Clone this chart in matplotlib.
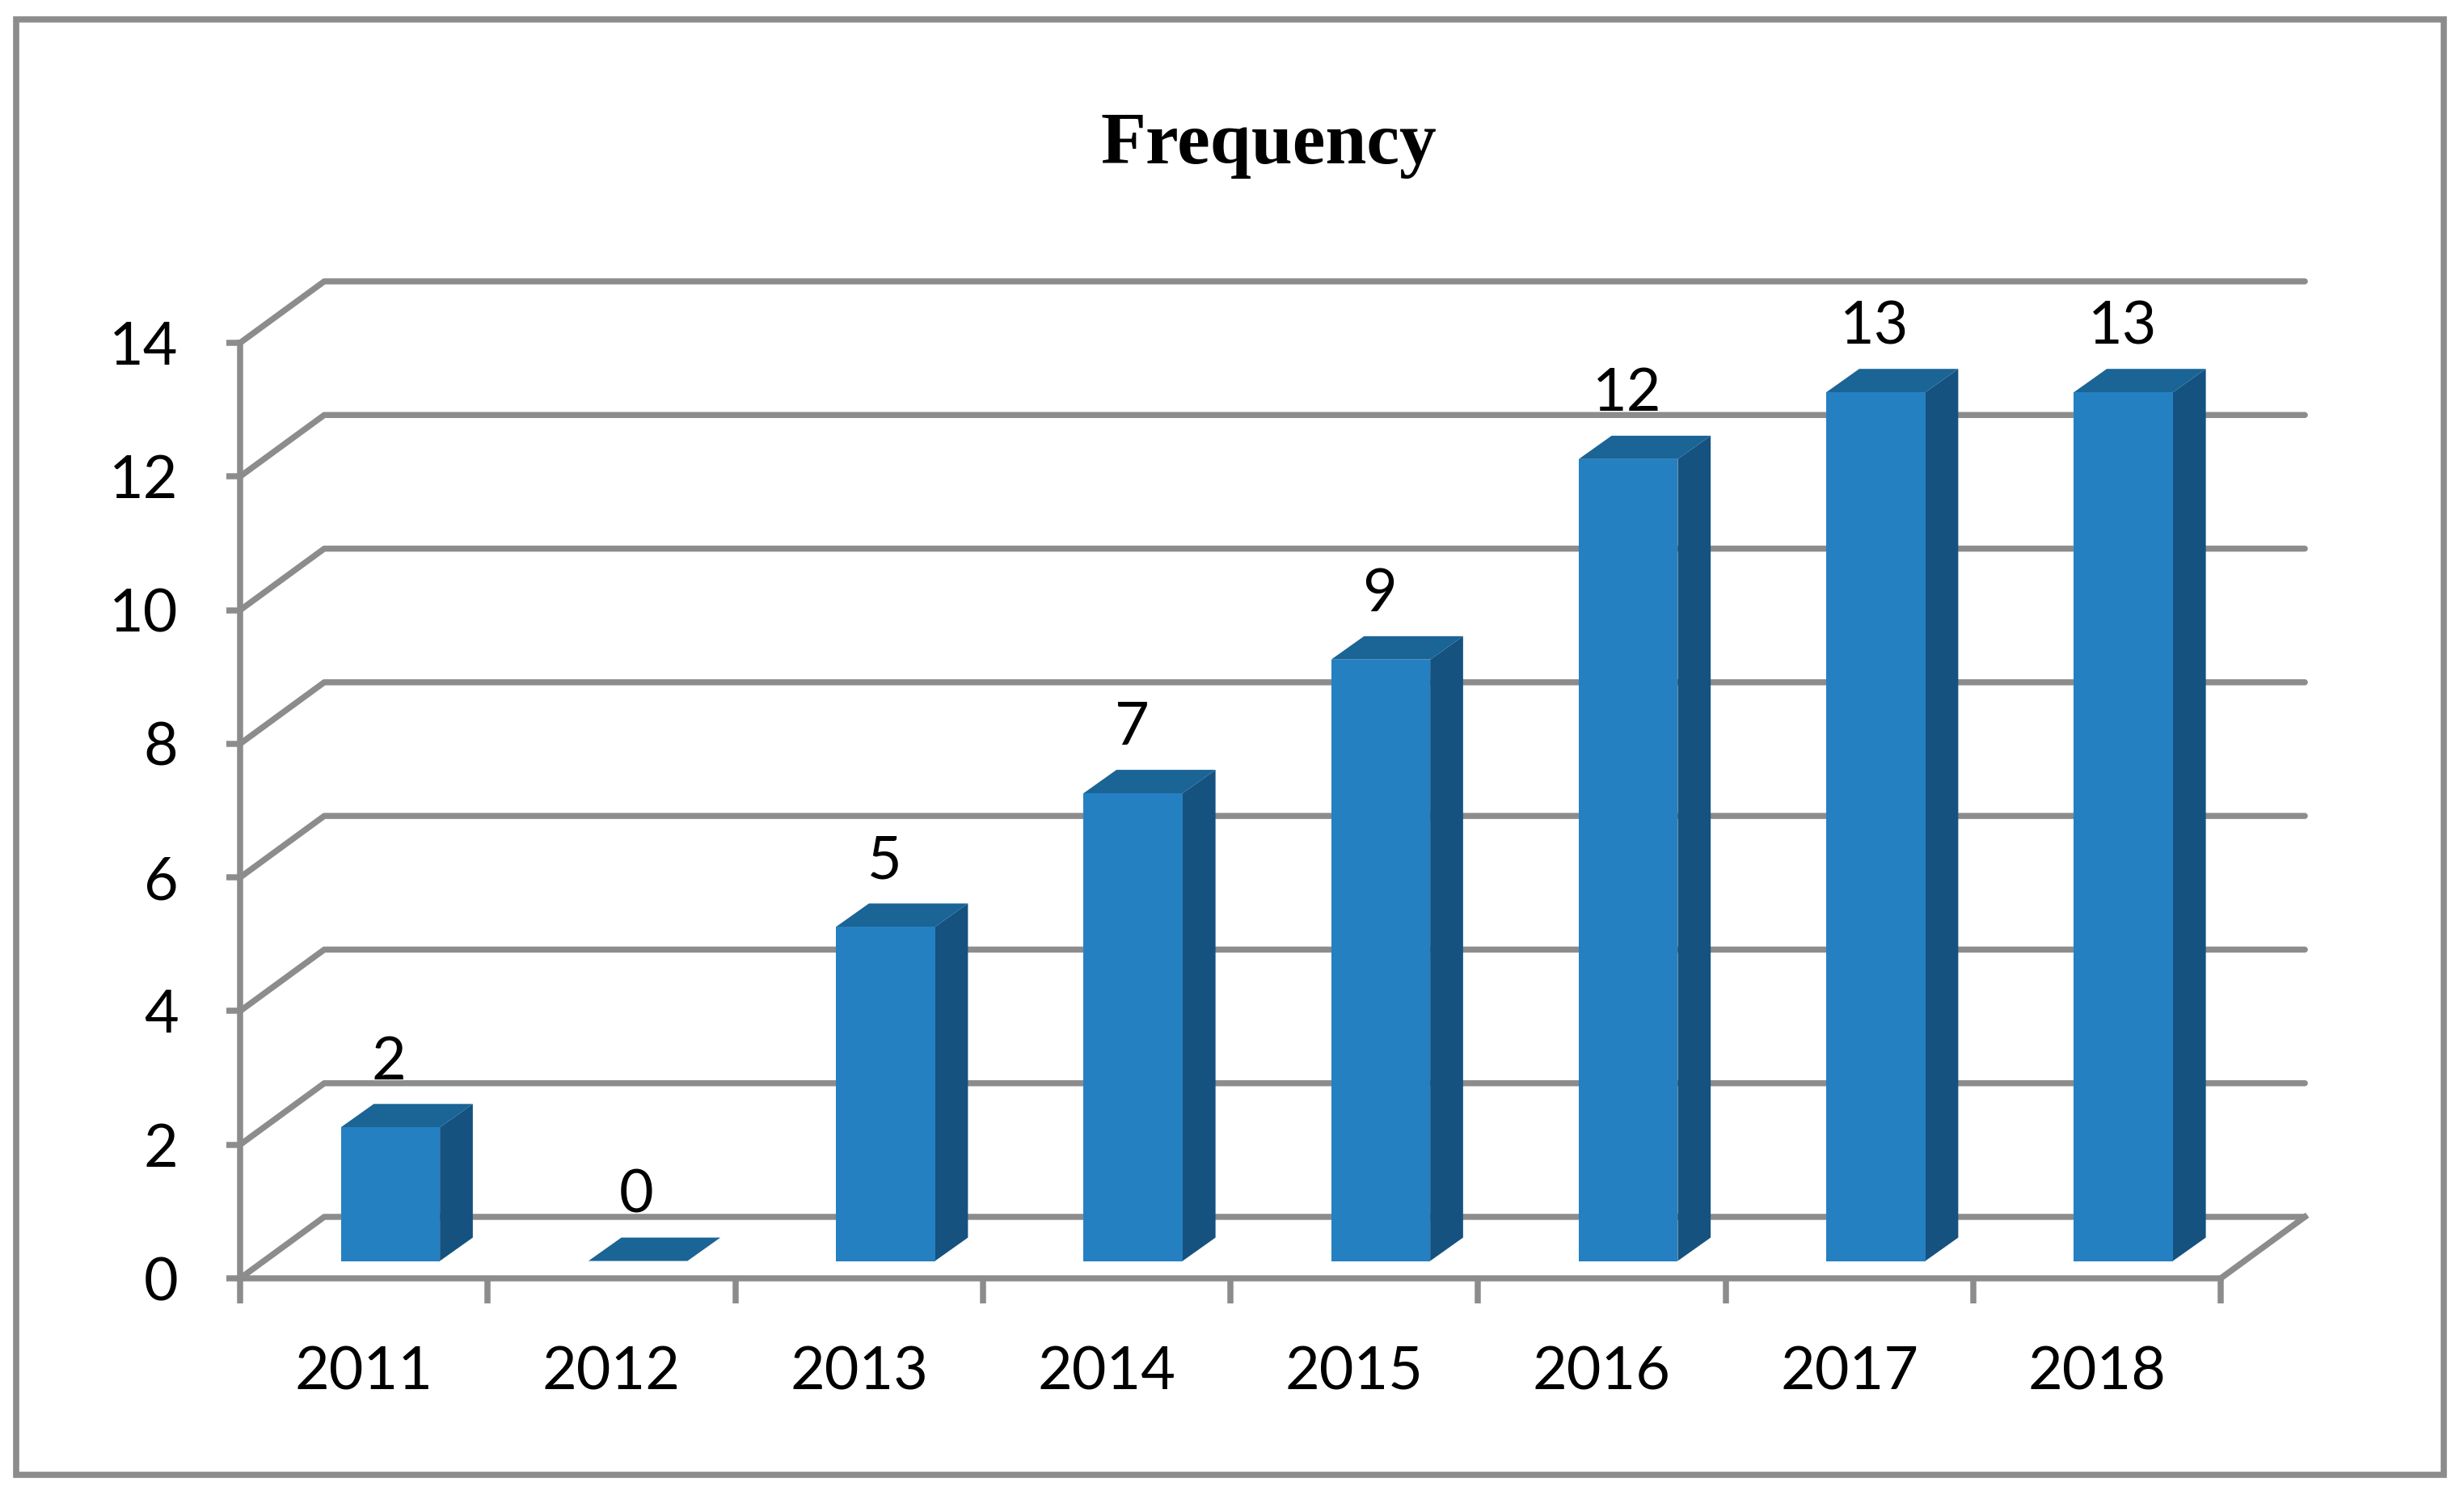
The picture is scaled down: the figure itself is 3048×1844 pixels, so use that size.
import matplotlib
matplotlib.use("Agg")
import matplotlib.pyplot as plt
from matplotlib.patches import Rectangle

years = ["2011", "2012", "2013", "2014", "2015", "2016", "2017", "2018"]
freq = [2, 0, 5, 7, 9, 12, 13, 13]
y_ticks = [0, 2, 4, 6, 8, 10, 12, 14]

W, H = 3048, 1844
GRAY = "#8c8c8c"
FRONT = "#2580c2"
TOP = "#1a6496"
SIDE = "#15527f"
LW = 5.4

# depth of the fake 3d box, in data units
wall_dx = 0.34
wall_dy = 0.92
bar_w = 0.40
bar_shift = 0.107
bar_dx = 0.133
bar_dy = 0.35
floor_y = 0.26

fig = plt.figure(figsize=(W / 100, H / 100), dpi=100, facecolor="white")

# outer frame
fig.add_artist(Rectangle((20 / W, 1 - 1824 / H), 3003 / W, 1800 / H, transform=fig.transFigure,
                         fill=False, edgecolor=GRAY, lw=5.5))

ax = fig.add_axes([297 / W, 1 - 1581 / H, 2450 / W, 1157 / H])
ax.set_xlim(0, len(years))
ax.set_ylim(0, 14)
ax.patch.set_alpha(0)

# gridlines, back wall and floor edge
for v in y_ticks:
    xs = [0, wall_dx, len(years) + wall_dx]
    ys = [v, v + wall_dy, v + wall_dy]
    ax.plot(xs, ys, color=GRAY, lw=LW, clip_on=False, zorder=1, solid_capstyle="round")
ax.plot([len(years), len(years) + wall_dx], [0, wall_dy], color=GRAY, lw=LW, clip_on=False, zorder=1)

# bars
for i, v in enumerate(freq):
    left = i + 0.5 + bar_shift - bar_w / 2
    right = left + bar_w
    base = floor_y
    top = base + v
    if v > 0:
        ax.fill([right, right + bar_dx, right + bar_dx, right],
                [base, base + bar_dy, top + bar_dy, top],
                color=SIDE, lw=0, clip_on=False, zorder=2)
    ax.fill([left, left + bar_dx, right + bar_dx, right],
            [top, top + bar_dy, top + bar_dy, top],
            color=TOP, lw=0, clip_on=False, zorder=2)
    ax.bar(left, v, width=bar_w, bottom=base, align="edge", color=FRONT, lw=0, zorder=3)
    ax.text(left + bar_w / 2 - 0.005, top + 0.97, str(v), ha="center", va="center",
            family="Lato", fontsize=53, color="black", clip_on=False, zorder=4)

for s in ["top", "right"]:
    ax.spines[s].set_visible(False)
for s in ["left", "bottom"]:
    ax.spines[s].set_color(GRAY)
    ax.spines[s].set_linewidth(LW)

ax.set_yticks(y_ticks)
ax.set_yticklabels([str(t) for t in y_ticks], family="Lato", fontsize=53)
ax.set_xticks(range(len(years) + 1))
ax.set_xticklabels([""] * (len(years) + 1))
ax.tick_params(axis="y", length=12, width=LW, color=GRAY, pad=43)
ax.tick_params(axis="x", length=22, width=LW, color=GRAY)

for i, y in enumerate(years):
    ax.annotate(y, (i + 0.5, 0), xytext=(0, -84), textcoords="offset points",
                ha="center", va="center", family="Lato", fontsize=53, annotation_clip=False)

fig.text(1569 / W, 1 - 180 / H, "Frequency", ha="center", va="center",
         family="Liberation Serif", weight="bold", fontsize=66)

fig.savefig("out.png", dpi=100)
